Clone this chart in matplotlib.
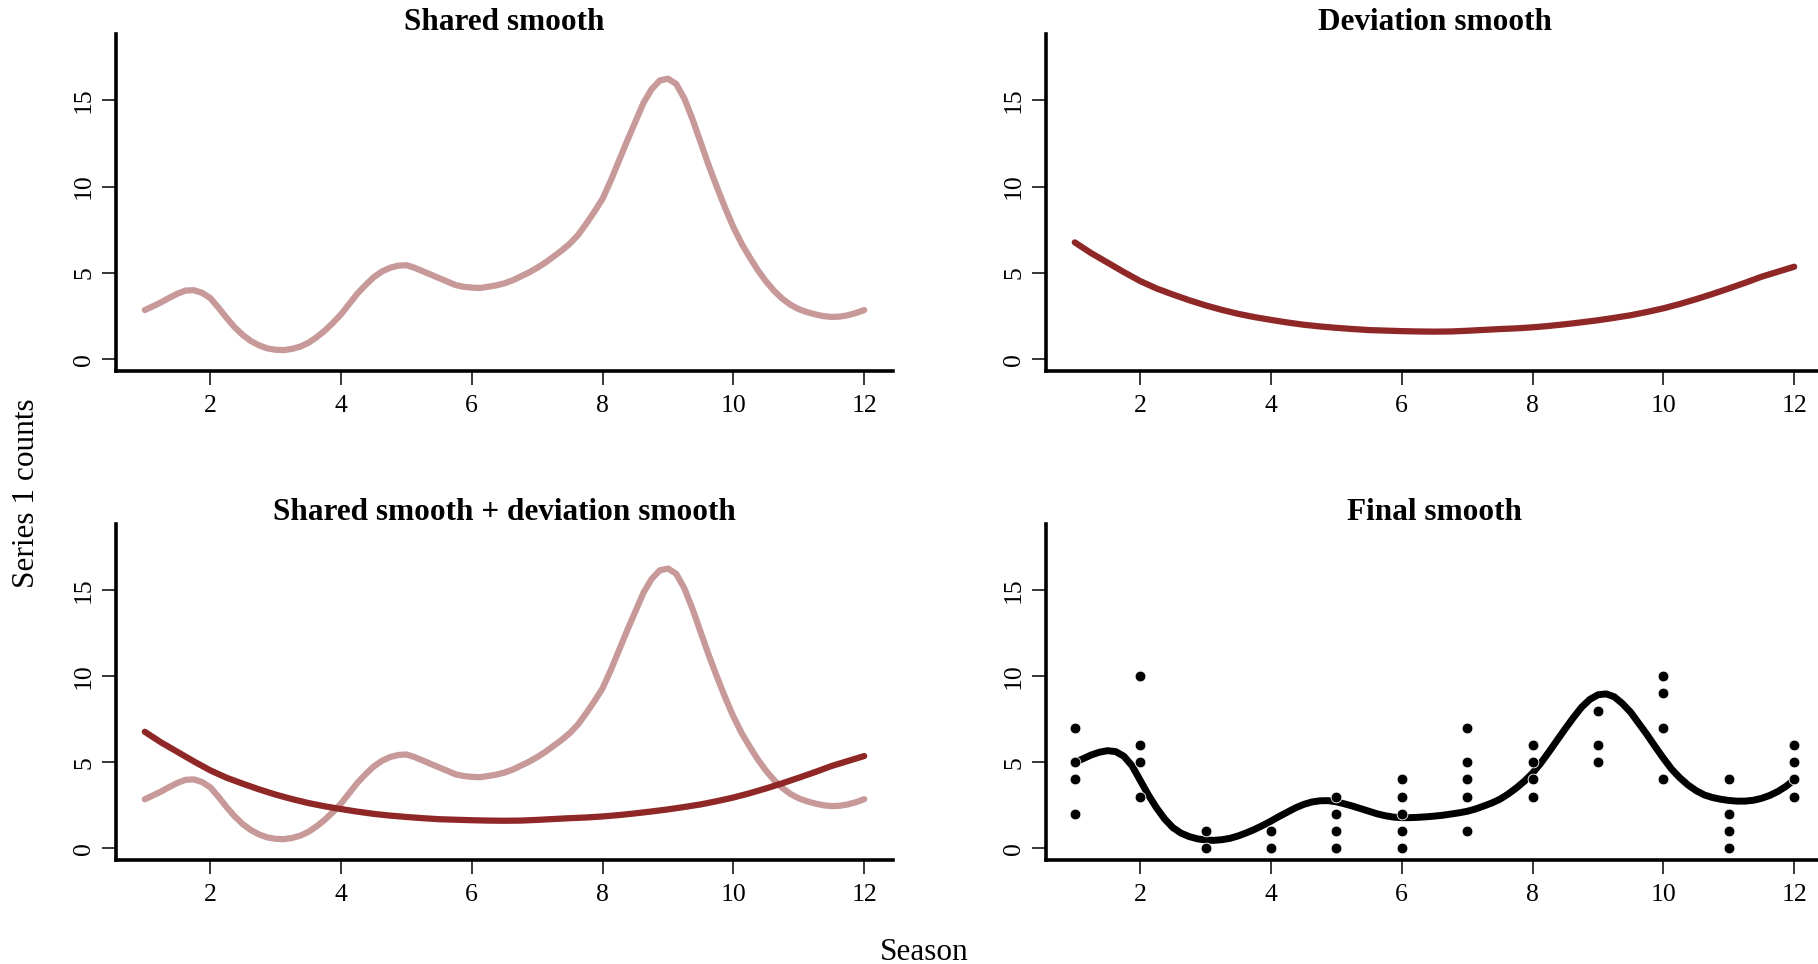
import matplotlib.pyplot as plt

plt.rcParams['font.family'] = ['Liberation Serif', 'DejaVu Serif']

# fine season grid for the shared and final smooths
season_grid = [1.0, 1.125, 1.25, 1.375, 1.5, 1.625, 1.75, 1.875,
               2.0, 2.125, 2.25, 2.375, 2.5, 2.625, 2.75, 2.875,
               3.0, 3.125, 3.25, 3.375, 3.5, 3.625, 3.75, 3.875,
               4.0, 4.125, 4.25, 4.375, 4.5, 4.625, 4.75, 4.875,
               5.0, 5.125, 5.25, 5.375, 5.5, 5.625, 5.75, 5.875,
               6.0, 6.125, 6.25, 6.375, 6.5, 6.625, 6.75, 6.875,
               7.0, 7.125, 7.25, 7.375, 7.5, 7.625, 7.75, 7.875,
               8.0, 8.125, 8.25, 8.375, 8.5, 8.625, 8.75, 8.875,
               9.0, 9.125, 9.25, 9.375, 9.5, 9.625, 9.75, 9.875,
               10.0, 10.125, 10.25, 10.375, 10.5, 10.625, 10.75, 10.875,
               11.0, 11.125, 11.25, 11.375, 11.5, 11.625, 11.75, 11.875,
               12.0]

shared_smooth = [2.85, 3.07, 3.3, 3.56, 3.8, 3.98, 4.0, 3.85,
                 3.55, 3.0, 2.4, 1.85, 1.4, 1.05, 0.8, 0.63,
                 0.55, 0.53, 0.6, 0.73, 0.95, 1.27, 1.65, 2.1,
                 2.6, 3.2, 3.8, 4.3, 4.75, 5.08, 5.3, 5.42,
                 5.45, 5.3, 5.1, 4.9, 4.7, 4.5, 4.3, 4.2,
                 4.15, 4.13, 4.2, 4.28, 4.4, 4.57, 4.8, 5.03,
                 5.3, 5.6, 5.95, 6.3, 6.7, 7.2, 7.85, 8.55,
                 9.3, 10.35, 11.5, 12.65, 13.75, 14.85, 15.65, 16.15,
                 16.25, 15.95, 15.1, 13.9, 12.55, 11.2, 9.95, 8.75,
                 7.65, 6.7, 5.9, 5.15, 4.5, 3.95, 3.5, 3.15,
                 2.9, 2.73, 2.6, 2.5, 2.45, 2.47, 2.55, 2.68,
                 2.85]

final_smooth = [5.0, 5.2, 5.42, 5.58, 5.67, 5.62, 5.35, 4.8,
                3.95, 3.1, 2.35, 1.7, 1.2, 0.88, 0.68, 0.55,
                0.48, 0.46, 0.5, 0.58, 0.72, 0.9, 1.1, 1.33,
                1.58, 1.85, 2.1, 2.35, 2.55, 2.69, 2.76, 2.77,
                2.7, 2.58, 2.45, 2.3, 2.15, 2.0, 1.89, 1.81,
                1.78, 1.78, 1.8, 1.83, 1.87, 1.92, 1.99, 2.06,
                2.15, 2.28, 2.45, 2.63, 2.85, 3.15, 3.5, 3.9,
                4.37, 4.95, 5.6, 6.28, 6.95, 7.6, 8.2, 8.65,
                8.92, 8.97, 8.8, 8.4, 7.9, 7.25, 6.6, 5.9,
                5.23, 4.6, 4.1, 3.68, 3.35, 3.1, 2.95, 2.85,
                2.78, 2.74, 2.74, 2.79, 2.9, 3.07, 3.3, 3.6,
                3.98]

dev_grid = [1.0, 1.25, 1.5, 1.75, 2.0, 2.25, 2.5, 2.75, 3.0, 3.25, 3.5, 3.75,
            4.0, 4.25, 4.5, 4.75, 5.0, 5.25, 5.5, 5.75, 6.0, 6.25, 6.5, 6.75,
            7.0, 7.25, 7.5, 7.75, 8.0, 8.25, 8.5, 8.75, 9.0, 9.25, 9.5, 9.75,
            10.0, 10.25, 10.5, 10.75, 11.0, 11.25, 11.5, 11.75, 12.0]
deviation_smooth = [6.77, 6.15, 5.6, 5.05, 4.53, 4.1, 3.75, 3.42, 3.12, 2.86, 2.63, 2.44,
                    2.28, 2.13, 2.0, 1.9, 1.82, 1.75, 1.69, 1.66, 1.63, 1.61, 1.6, 1.61,
                    1.65, 1.7, 1.75, 1.79, 1.85, 1.93, 2.03, 2.14, 2.26, 2.4, 2.55, 2.74,
                    2.95, 3.2, 3.48, 3.78, 4.1, 4.43, 4.78, 5.07, 5.36]

# observed counts
obs_season = [1, 1, 1, 1, 2, 2, 2, 2, 3, 3, 4, 4, 5, 5, 5, 5, 6, 6, 6, 6, 6,
              7, 7, 7, 7, 7, 8, 8, 8, 8, 9, 9, 9, 10, 10, 10, 10,
              11, 11, 11, 11, 12, 12, 12, 12]
obs_count = [7, 5, 4, 2, 10, 6, 5, 3, 1, 0, 1, 0, 3, 2, 1, 0, 4, 3, 2, 1, 0,
             7, 5, 4, 3, 1, 6, 5, 4, 3, 8, 6, 5, 10, 9, 7, 4,
             4, 2, 1, 0, 6, 5, 4, 3]

x_ticks = [2, 4, 6, 8, 10, 12]
y_ticks = [0, 5, 10, 15]

light_red = '#C79999'
dark_red = '#8F2727'

W, H = 1818, 964
PANEL_W = 777
fig = plt.figure(figsize=(W / 100, H / 100), dpi=100)


def panel(left, top, bottom, title):
    ax = fig.add_axes([left / W, 1 - bottom / H, PANEL_W / W, (bottom - top) / H])
    ax.set_xlim(0.56, 12.44)
    ax.set_ylim(-0.68, 18.84)
    ax.set_xticks(x_ticks)
    ax.set_yticks(y_ticks)
    for side in ['top', 'right']:
        ax.spines[side].set_visible(False)
    for side in ['left', 'bottom']:
        ax.spines[side].set_linewidth(2.6)
        ax.spines[side].set_capstyle('projecting')
    ax.tick_params(direction='out', length=10, width=1.1, labelsize=18.5, pad=7.5)
    ax.tick_params(axis='y', labelrotation=90, pad=5)
    for lab in ax.get_yticklabels():
        lab.set_va('center')
    # panel title sits just above the plotting region
    fig.text((left + PANEL_W / 2) / W, 1 - (top - 4) / H, title,
             ha='center', va='baseline', fontsize=22.5, fontweight='bold')
    return ax


line_kw = dict(lw=4.5, solid_capstyle='round', solid_joinstyle='round')

ax1 = panel(116, 34, 371, 'Shared smooth')
ax1.plot(season_grid, shared_smooth, color=light_red, **line_kw)

ax2 = panel(1046, 34, 371, 'Deviation smooth')
ax2.plot(dev_grid, deviation_smooth, color=dark_red, **line_kw)

ax3 = panel(116, 524, 860, 'Shared smooth + deviation smooth')
ax3.plot(season_grid, shared_smooth, color=light_red, **line_kw)
ax3.plot(dev_grid, deviation_smooth, color=dark_red, **line_kw)

ax4 = panel(1046, 524, 860, 'Final smooth')
ax4.plot(season_grid, final_smooth, color='black', lw=5.0,
         solid_capstyle='round', solid_joinstyle='round', zorder=2)
ax4.scatter(obs_season, obs_count, s=60, c='black', edgecolors='white',
            linewidths=0.6, zorder=3)

fig.text(26.5 / W, 1 - 493 / H, 'Series 1 counts', rotation=90,
         ha='center', va='center', fontsize=22.5)
fig.text(924 / W, 1 - 960 / H, 'Season', ha='center', va='baseline', fontsize=22.5)

fig.savefig('out.png', dpi=100)
